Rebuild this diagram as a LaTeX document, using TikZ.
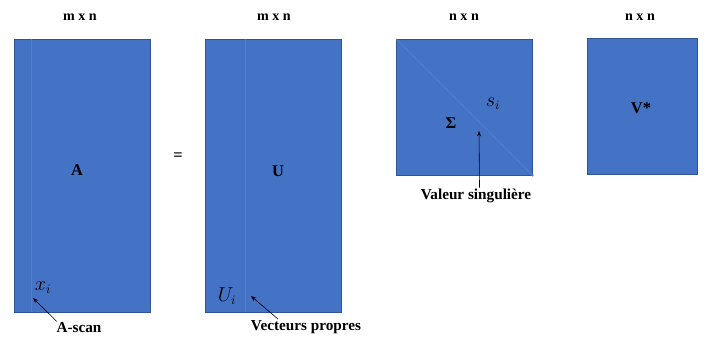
\documentclass[tikz,border=0pt]{standalone}
\usepackage{fontspec}
\setmainfont{Liberation Serif}
\usetikzlibrary{arrows.meta,positioning}
\definecolor{matblue}{HTML}{4472C4}
\definecolor{matedge}{HTML}{2F5597}
\tikzset{
  mat/.style={draw=matedge, line width=0.4pt, fill=matblue, rectangle, inner sep=0pt},
  dim/.style={font=\bfseries\fontsize{12}{14}\selectfont},
  lbl/.style={font=\bfseries\fontsize{14}{16}\selectfont},
  note/.style={font=\bfseries\fontsize{13}{15}\selectfont, inner sep=1pt},
  elt/.style={font=\fontsize{16}{18}\selectfont},
  arr/.style={-{Stealth[length=1.6mm,width=1.2mm]}, line width=0.5pt},
  faint/.style={draw=matblue!90!white, line width=0.6pt},
}
\begin{document}
\begin{tikzpicture}[x=0.03cm,y=-0.03cm]
\useasboundingbox (0,0) rectangle (713,338);

% matrices
\node[mat, minimum width=4.08cm, minimum height=8.19cm] (A) at (82,175.5) {};
\node[mat, minimum width=4.08cm, minimum height=8.19cm] (U) at (273,175.5) {};
\node[mat, minimum width=4.08cm, minimum height=4.08cm] (S) at (464,107) {};
\node[mat, minimum width=3.30cm, minimum height=4.08cm] (V) at (642,106) {};

% faint columns / diagonal
\draw[faint] ([xshift=0.54cm]A.north west) -- ([xshift=0.54cm]A.south west);
\draw[faint] ([xshift=1.23cm]U.north west) -- ([xshift=1.23cm]U.south west);
\draw[faint] (S.north west) -- (S.south east);
\fill[matblue] (S.south east) circle (1.5);

% dimensions
\node[dim] (dA) at (80,17) {m x n};
\node[dim] (dU) at (274,17) {m x n};
\node[dim] (dS) at (464,17) {n x n};
\node[dim] (dV) at (640,17) {n x n};

% names
\node[lbl] (nA) at (77,170) {A};
\node[lbl] (eq) at (178,157) {=};
\node[lbl] (nU) at (278,171) {U};
\node[lbl] (nS) at (451,123) {Σ};
\node[lbl] (nV) at (641,108) {V*};

% elements
\node[elt] (xi) at (43,288) {$x_i$};
\node[elt] (ui) at (227,296) {$U_i$};
\node[elt] (si) at (493,104) {$s_i$};

% notes
\node[note] (scan) at (79,328) {A-scan};
\node[note] (vec) at (306,327) {Vecteurs propres};
\node[note] (val) at (476,196) {Valeur singulière};

\coordinate (pA) at (33,298);
\coordinate (pU) at (251,296);
\coordinate (pS) at (479,131);
\draw[arr] ([xshift=-19]scan.north) -- (pA);
\draw[arr] ([xshift=-24]vec.north) -- (pU);
\draw[arr] ([xshift=3]val.north) -- (pS);

\end{tikzpicture}
\end{document}
